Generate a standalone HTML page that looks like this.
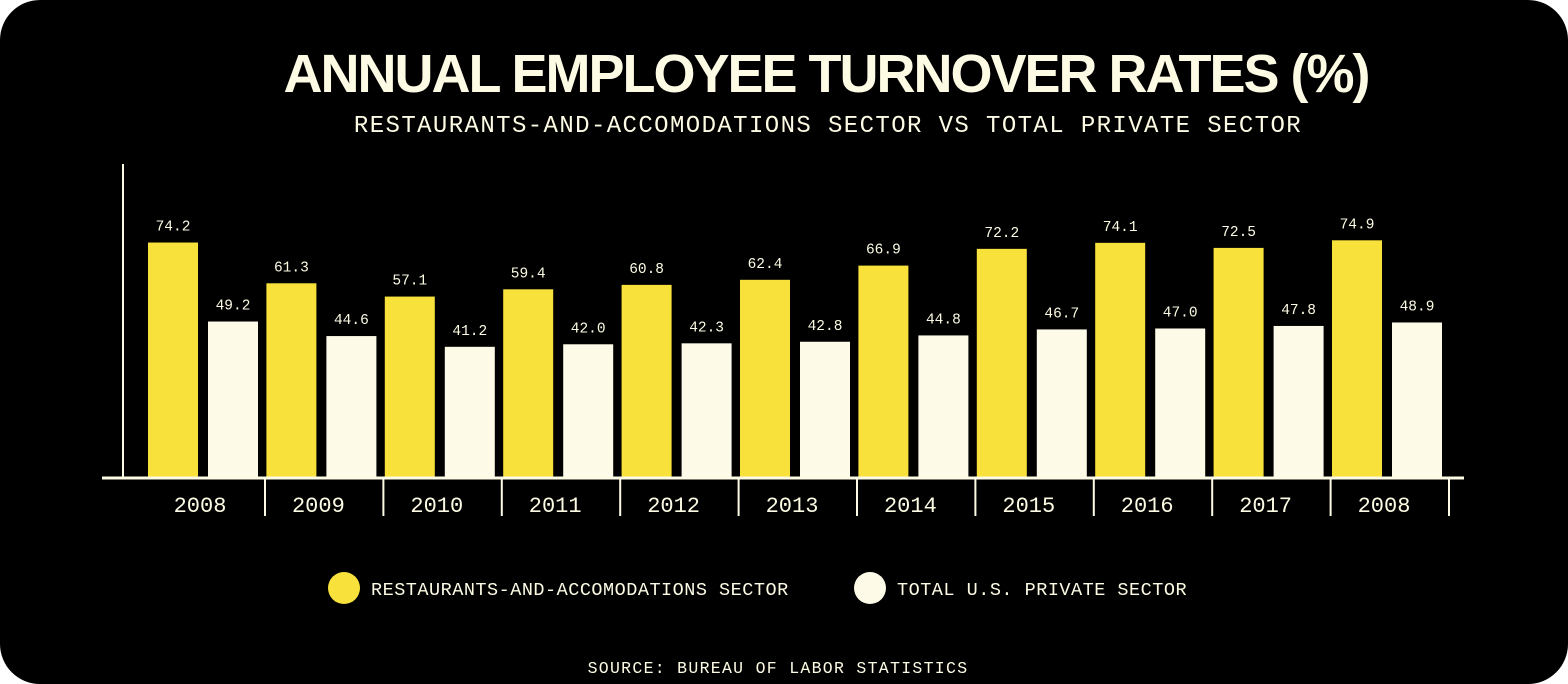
<!DOCTYPE html>
<html><head><meta charset="utf-8"><style>
html,body{margin:0;padding:0;background:#fff;}
#wrap{width:1568px;height:684px;background:#000;border-radius:40px;position:relative;overflow:hidden;}
svg{position:absolute;left:0;top:0;}
</style></head><body>
<div id="wrap">
<svg id="chart" width="1568" height="684">
<text x="826" y="92" text-anchor="middle" font-family="Liberation Sans, sans-serif" font-weight="bold" font-size="54" letter-spacing="-2" fill="#fdfbe4">ANNUAL EMPLOYEE TURNOVER RATES (%)</text>
<text x="828" y="132" text-anchor="middle" font-family="Liberation Mono, monospace" font-size="24" letter-spacing="1.4" fill="#fdfbe4">RESTAURANTS-AND-ACCOMODATIONS SECTOR VS TOTAL PRIVATE SECTOR</text>
<line x1="123" y1="164" x2="123" y2="478" stroke="#fdfbe4" stroke-width="2"/>
<g id="bars"></g>
<line x1="102" y1="478" x2="1464" y2="478" stroke="#fdfbe4" stroke-width="3"/>
<g id="xlabels"></g>
<g>
<circle cx="344" cy="588" r="16" fill="#f9e13c"/>
<text x="371" y="595" font-family="Liberation Mono, monospace" font-size="18.5" letter-spacing="0.5" fill="#fdfbe4">RESTAURANTS-AND-ACCOMODATIONS SECTOR</text>
<circle cx="870" cy="588" r="16" fill="#fefae8"/>
<text x="897" y="595" font-family="Liberation Mono, monospace" font-size="18.5" letter-spacing="0.5" fill="#fdfbe4">TOTAL U.S. PRIVATE SECTOR</text>
</g>
<text x="778" y="673" text-anchor="middle" font-family="Liberation Mono, monospace" font-size="16.5" letter-spacing="1.3" fill="#fdfbe4">SOURCE: BUREAU OF LABOR STATISTICS</text>
</svg>
</div>
<script>
const categories = ["2008","2009","2010","2011","2012","2013","2014","2015","2016","2017","2008"];
const restaurants = [74.2,61.3,57.1,59.4,60.8,62.4,66.9,72.2,74.1,72.5,74.9];
const privateSector = [49.2,44.6,41.2,42.0,42.3,42.8,44.8,46.7,47.0,47.8,48.9];
const NS = "http://www.w3.org/2000/svg";
const baseY = 477, pxPerUnit = 3.16, x0 = 148, pitch = 118.4, bw = 50, gap = 10;
function xOf(i){ return x0 + i*pitch; }
function yOf(v){ return baseY - v*pxPerUnit; }
const bars = document.getElementById('bars');
const xl = document.getElementById('xlabels');
function bar(x, v, color, name){
  const r = document.createElementNS(NS,'rect');
  r.setAttribute('x', x); r.setAttribute('y', yOf(v));
  r.setAttribute('width', bw); r.setAttribute('height', baseY - yOf(v));
  r.setAttribute('fill', color);
  
  
  bars.appendChild(r);
  const t = document.createElementNS(NS,'text');
  t.setAttribute('x', x + bw/2); t.setAttribute('y', yOf(v) - 12);
  t.setAttribute('text-anchor','middle');
  t.setAttribute('font-family','Liberation Mono, monospace');
  t.setAttribute('font-size','14.5');
  t.setAttribute('fill','#fdfbe4');
  t.textContent = v.toFixed(1);
  
  
  bars.appendChild(t);
}
categories.forEach((c,i)=>{
  const x = xOf(i);
  bar(x, restaurants[i], '#f9e13c', 'bar-restaurants-' + i);
  bar(x + bw + gap, privateSector[i], '#fefae8', 'bar-private-' + i);
  const t = document.createElementNS(NS,'text');
  t.setAttribute('x', x + 52); t.setAttribute('y', 512);
  t.setAttribute('text-anchor','middle');
  t.setAttribute('font-family','Liberation Mono, monospace');
  t.setAttribute('font-size','22');
  t.setAttribute('fill','#fdfbe4');
  t.textContent = c;
  
  
  xl.appendChild(t);
  const l = document.createElementNS(NS,'line');
  const sx = x + bw*2 + gap + 7;
  l.setAttribute('x1', sx); l.setAttribute('x2', sx);
  l.setAttribute('y1', 479); l.setAttribute('y2', 516);
  l.setAttribute('stroke','#fdfbe4'); l.setAttribute('stroke-width','2');
  
  
  xl.appendChild(l);
});
</script>
</body></html>
